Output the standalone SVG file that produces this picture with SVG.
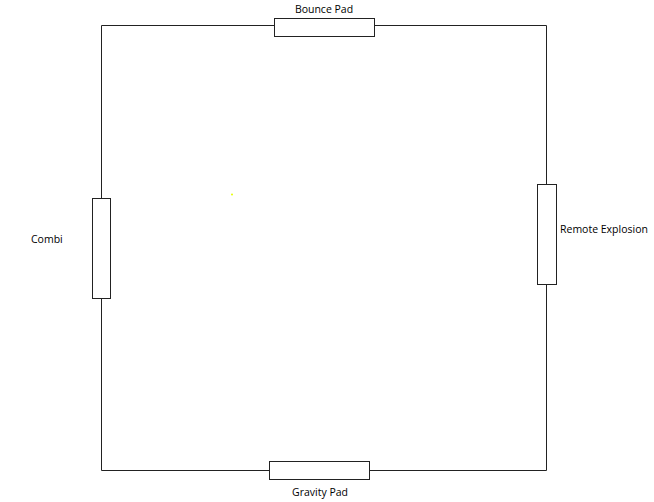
<svg xmlns="http://www.w3.org/2000/svg" width="654" height="502" viewBox="0 0 654 502">
<style>
.w{fill:none;stroke:#222;stroke-width:1}
.b{fill:#fff;stroke:#222;stroke-width:1}
.t{font-family:"Open Sans","Liberation Sans",sans-serif;font-size:10.5px;fill:#000}
</style>
<rect width="654" height="502" fill="#fff"/>
<g id="connectors">
<path class="w" d="M274.5,25.5 H101.5 V198.5"/>
<path class="w" d="M101.5,298.5 V470.5 H269.5"/>
<path class="w" d="M369.5,470.5 H546.5 V284.5"/>
<path class="w" d="M546.5,184.5 V25.5 H374.5"/>
</g>
<g id="bounce-pad">
<rect class="b" x="274.5" y="18.5" width="100" height="18"/>
<text class="t" x="324" y="13" text-anchor="middle">Bounce Pad</text>
</g>
<g id="combi">
<rect class="b" x="92.5" y="198.5" width="18" height="100"/>
<text class="t" x="31" y="243">Combi</text>
</g>
<g id="remote-explosion">
<rect class="b" x="537.5" y="184.5" width="19" height="100"/>
<text class="t" x="560" y="233">Remote Explosion</text>
</g>
<g id="gravity-pad">
<rect class="b" x="269.5" y="461.5" width="100" height="18"/>
<text class="t" x="320" y="496" text-anchor="middle">Gravity Pad</text>
</g>
<circle cx="232" cy="194.5" r="1" fill="#e6ff00"/>
</svg>
